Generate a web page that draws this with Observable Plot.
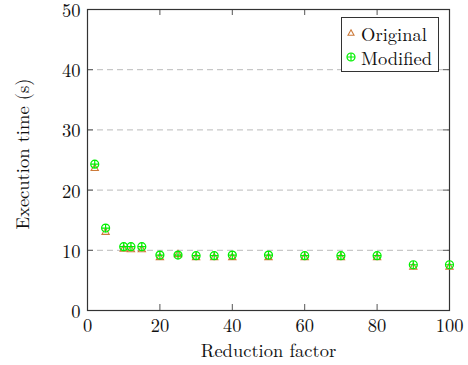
<!DOCTYPE html>
<html>
<head>
<meta charset="utf-8">
<script src="https://cdn.jsdelivr.net/npm/d3@7"></script>
<script src="https://cdn.jsdelivr.net/npm/@observablehq/plot@0.6"></script>
<style>
  html, body { margin: 0; padding: 0; background: #fff; }
  #wrap { position: relative; width: 468px; height: 365px; }
  #legend { position: absolute; left: 341px; top: 17px; width: 98px; height: 55px; border: 1px solid #333; background: #fff; box-sizing: border-box; }
  .item { position: absolute; left: 0; font-size: 18.5px; color: #111; line-height: 1; white-space: nowrap; }
  .item svg { position: absolute; left: 4px; }
  .item span { position: absolute; left: 19px; }
</style>
</head>
<body>
<div id="wrap" style="font-family:'Latin Modern Roman'"></div>
<script>
const reduction = [2, 5, 10, 12, 15, 20, 25, 30, 35, 40, 50, 60, 70, 80, 90, 100];
const original  = [23.6, 13.0, 10.2, 10.1, 10.1, 8.8, 9.3, 8.8, 8.8, 8.8, 8.8, 8.8, 8.8, 8.8, 7.2, 7.2];
const modified  = [24.3, 13.7, 10.6, 10.6, 10.6, 9.2, 9.2, 9.1, 9.1, 9.2, 9.2, 9.1, 9.1, 9.1, 7.6, 7.6];
const xTicks = [0, 20, 40, 60, 80, 100];
const yTicks = [0, 10, 20, 30, 40, 50];
const gridTicks = [10, 20, 30, 40];
const seriesNames = ["Original", "Modified"];

const origColor = "#cc7a3a";
const modColor = "#00f000";
const fam = "Latin Modern Roman";

const circlePlus = {
  draw(context, size) {
    const r = Math.sqrt(size / Math.PI);
    context.moveTo(r, 0);
    context.arc(0, 0, r, 0, 2 * Math.PI);
    context.moveTo(-r, 0);
    context.lineTo(r, 0);
    context.moveTo(0, -r);
    context.lineTo(0, r);
  }
};

const origData = reduction.map((x, i) => ({x, y: original[i]}));
const modData = reduction.map((x, i) => ({x, y: modified[i]}));

const W = 468, H = 365, mL = 87, mR = 19, mT = 9, mB = 55;
const fw = W - mL - mR, fh = H - mT - mB, tl = 6;

const chart = Plot.plot({
  width: W, height: H,
  marginLeft: mL, marginRight: mR, marginTop: mT, marginBottom: mB,
  style: {fontSize: "18.5px", color: "#111", background: "#fff", overflow: "visible"},
  x: {domain: [0, 100]},
  y: {domain: [0, 50]},
  marks: [
    Plot.gridY(gridTicks, {stroke: "#bbb", strokeOpacity: 1, strokeDasharray: "6,4", strokeWidth: 1}),
    Plot.ruleX(xTicks, {x: d => d, insetTop: fh - tl, stroke: "#555"}),
    Plot.ruleX(xTicks, {x: d => d, insetBottom: fh - tl, stroke: "#555"}),
    Plot.ruleY(yTicks, {y: d => d, insetRight: fw - tl, stroke: "#555"}),
    Plot.ruleY(yTicks, {y: d => d, insetLeft: fw - tl, stroke: "#555"}),
    Plot.axisX(xTicks, {tickSize: 0, tickPadding: 8, label: "Reduction factor", labelAnchor: "center", labelArrow: "none", labelOffset: 46, fontSize: 18.5}),
    Plot.axisY(yTicks, {tickSize: 0, tickPadding: 7, dy: 1.5, label: "Execution time (s)", labelAnchor: "center", labelArrow: "none", labelOffset: 72, fontSize: 18.5}),
    Plot.frame({stroke: "#333", strokeWidth: 1.2}),
    Plot.dot(origData, {x: "x", y: "y", symbol: "triangle", r: 2.7, stroke: origColor, strokeWidth: 1.1, fill: "none"}),
    Plot.dot(modData, {x: "x", y: "y", symbol: circlePlus, r: 4, stroke: modColor, strokeWidth: 1.2, fill: "none"})
  ]
});
chart.setAttribute("font-family", fam);
chart.style.fontFamily = fam;
chart.querySelectorAll("text").forEach(t => t.setAttribute("font-family", fam));
const yLab = chart.querySelector("g[aria-label='y-axis label']");
if (yLab) yLab.setAttribute("transform", (yLab.getAttribute("transform") || "") + " translate(0,-6)");

const wrap = document.getElementById("wrap");
wrap.appendChild(chart);

const legend = document.createElement("div");
legend.id = "legend";
legend.style.fontFamily = fam;
const sym = [
  `<svg width="10" height="10" viewBox="-5 -5 10 10"><path d="M0,-3.2L3,2.2L-3,2.2Z" fill="none" stroke="${origColor}" stroke-width="1.1"/></svg>`,
  `<svg width="10" height="10" viewBox="-5 -5 10 10"><circle r="4" fill="none" stroke="${modColor}" stroke-width="1.2"/><path d="M-4,0H4M0,-4V4" stroke="${modColor}" stroke-width="1.2"/></svg>`
];
seriesNames.forEach((name, i) => {
  const it = document.createElement("div");
  it.className = "item";
  it.style.top = (i === 0 ? 6 : 30) + "px";
  it.style.width = "100%";
  it.innerHTML = sym[i].replace("<svg", `<svg style="top:4px"`) + `<span style="font-family:'${fam}'">${name}</span>`;
  legend.appendChild(it);
});
wrap.appendChild(legend);
</script>
</body>
</html>
